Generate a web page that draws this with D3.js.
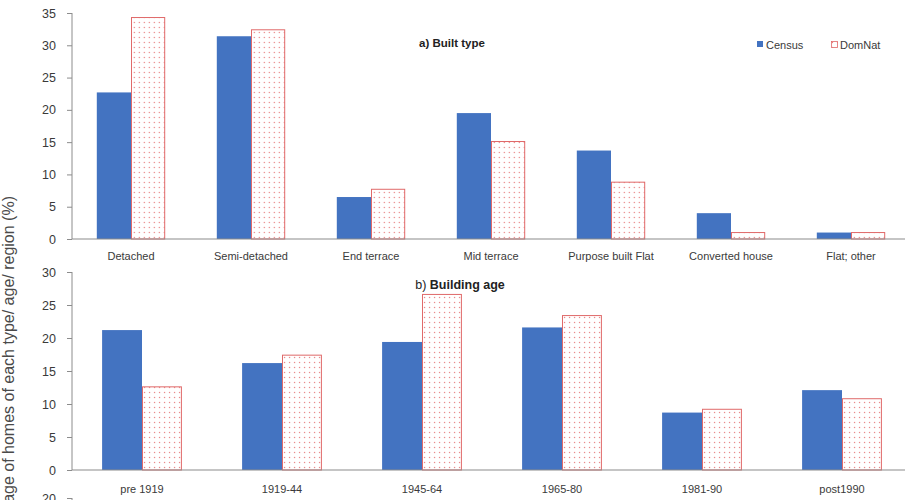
<!DOCTYPE html>
<html>
<head>
<meta charset="utf-8">
<script src="https://cdn.jsdelivr.net/npm/d3@7/dist/d3.min.js"></script>
<style>
  html, body { margin: 0; padding: 0; background: #fff; }
  svg { display: block; font-family: "Liberation Sans", Arial, sans-serif; }
</style>
</head>
<body>
<svg id="chart" width="905" height="500"></svg>
<script>
// Share of homes by built type and by building age: Census vs DomNat
const seriesNames = ["Census", "DomNat"];

const builtTypes = ["Detached", "Semi-detached", "End terrace", "Mid terrace",
                    "Purpose built Flat", "Converted house", "Flat; other"];
const builtCensus = [22.7, 31.4, 6.5, 19.5, 13.7, 4.0, 1.0];
const builtDomNat = [34.3, 32.4, 7.7, 15.1, 8.8, 1.0, 1.0];
const builtTicks = [0, 5, 10, 15, 20, 25, 30, 35];

const ageBands = ["pre 1919", "1919-44", "1945-64", "1965-80", "1981-90", "post1990"];
const ageCensus = [21.2, 16.2, 19.4, 21.6, 8.7, 12.1];
const ageDomNat = [12.6, 17.4, 26.6, 23.4, 9.2, 10.8];
const ageTicks = [0, 5, 10, 15, 20, 25, 30];

const regionTicks = [0, 5, 10, 15, 20];

const svg = d3.select("#chart");
const blue = "#4373c1";
const red = "#e06a6a";
const axisGrey = "#8c8c8c";
const textGrey = "#3a3a3a";

// dotted fill for the DomNat bars
const defs = svg.append("defs");
const pat = defs.append("pattern")
  .attr("id", "dots")
  .attr("patternUnits", "userSpaceOnUse")
  .attr("width", 5).attr("height", 5);
pat.append("rect").attr("width", 5).attr("height", 5).attr("fill", "#fff");
pat.append("circle").attr("cx", 2.5).attr("cy", 2.5).attr("r", 0.7)
  .attr("fill", "#e88080");

const axisX = 72;

function panel(cfg) {
  const g = svg.append("g");
  const y = d3.scaleLinear().domain(cfg.domain).range(cfg.yRange);
  const x = d3.scaleBand().domain(cfg.cats).range(cfg.xRange)
    .paddingInner(cfg.padIn).paddingOuter(cfg.padIn / 2);
  const xs = d3.scaleBand().domain(seriesNames).range([0, x.bandwidth()]);

  // y axis
  const yAxis = d3.axisLeft(y).tickValues(cfg.ticks).tickSize(5).tickPadding(11);
  const ga = g.append("g").attr("transform", `translate(${axisX},0)`).call(yAxis);
  ga.select(".domain").attr("stroke", axisGrey).attr("d",
    `M0,${cfg.yRange[0]}V${cfg.yRange[1]}`);
  ga.selectAll(".tick line").attr("stroke", axisGrey);
  ga.selectAll(".tick text").attr("fill", textGrey).attr("font-size", 12.5)
    .attr("font-family", "Liberation Sans, Arial, sans-serif");

  if (!cfg.cats.length) return;

  // bars
  const rows = cfg.cats.map((c, i) => ({ cat: c, vals: [cfg.a[i], cfg.b[i]] }));
  const grp = g.selectAll("g.cat").data(rows).join("g")
    .attr("transform", d => `translate(${x(d.cat)},0)`);
  grp.selectAll("rect").data(d => d.vals.map((v, k) => ({ k, v })))
    .join("rect")
    .attr("x", d => xs(seriesNames[d.k]) + (d.k ? 0.5 : 0))
    .attr("width", d => xs.bandwidth() - (d.k ? 1 : 0))
    .attr("y", d => y(d.v))
    .attr("height", d => y(0) - y(d.v))
    .attr("fill", d => d.k ? "url(#dots)" : blue)
    .attr("stroke", d => d.k ? red : "none")
    .attr("stroke-width", 1);

  // x axis baseline
  g.append("line")
    .attr("x1", axisX).attr("x2", 905)
    .attr("y1", y(0)).attr("y2", y(0))
    .attr("stroke", axisGrey).attr("stroke-width", 1.2);

  // category labels
  g.selectAll("text.cat").data(cfg.cats).join("text")
    .attr("class", "cat")
    .attr("x", d => x(d) + x.bandwidth() / 2)
    .attr("y", cfg.labelY)
    .attr("text-anchor", "middle")
    .attr("font-size", 11)
    .attr("fill", textGrey)
    .text(d => d);
}

panel({ cats: builtTypes, a: builtCensus, b: builtDomNat, domain: [0, 35],
        yRange: [239, 13], xRange: [71, 911], padIn: 0.43, ticks: builtTicks, labelY: 260 });
panel({ cats: ageBands, a: ageCensus, b: ageDomNat, domain: [0, 30],
        yRange: [470, 272], xRange: [72, 912], padIn: 0.43, ticks: ageTicks, labelY: 493 });
// third panel (regions) starts at the bottom edge
panel({ cats: [], a: [], b: [], domain: [0, 20], yRange: [630, 498],
        xRange: [72, 912], padIn: 0.43, ticks: regionTicks, labelY: 0 });

// panel titles
svg.append("text").attr("x", 452).attr("y", 47).attr("text-anchor", "middle")
  .attr("font-size", 11.5).attr("font-weight", "bold").attr("fill", "#222")
  .text("a) Built type");
const tb = svg.append("text").attr("x", 460).attr("y", 289).attr("text-anchor", "middle")
  .attr("font-size", 12.5).attr("fill", "#222");
tb.append("tspan").text("b) ");
tb.append("tspan").attr("font-weight", "bold").text("Building age");

// legend
const leg = svg.append("g").attr("font-size", 11).attr("fill", textGrey);
leg.append("rect").attr("x", 757).attr("y", 41).attr("width", 6).attr("height", 6).attr("fill", blue);
leg.append("text").attr("x", 766).attr("y", 49).text(seriesNames[0]);
leg.append("rect").attr("x", 831.5).attr("y", 41.5).attr("width", 6).attr("height", 6)
  .attr("fill", "url(#dots)").attr("stroke", red).attr("stroke-width", 0.8);
leg.append("text").attr("x", 840).attr("y", 49).text(seriesNames[1]);

// shared y axis title, spanning all three panels
svg.append("text")
  .attr("transform", "translate(14,196) rotate(-90)")
  .attr("text-anchor", "end")
  .attr("font-size", 16)
  .attr("fill", "#4a4a4a")
  .text("Percentage of homes of each type/ age/ region (%)");
</script>
</body>
</html>
